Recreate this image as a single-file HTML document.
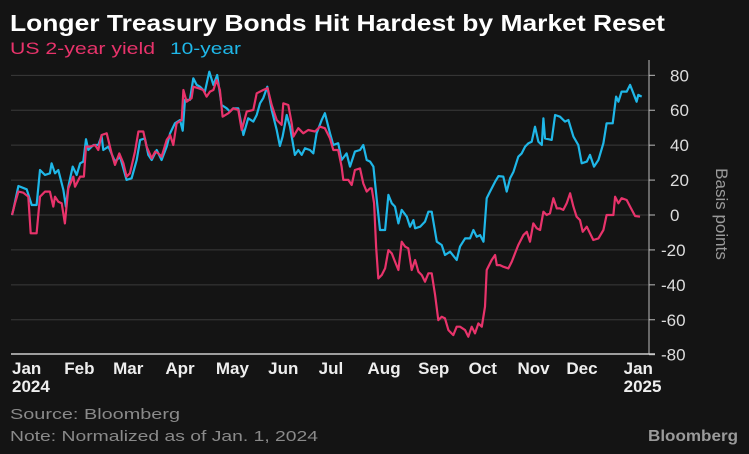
<!DOCTYPE html>
<html><head><meta charset="utf-8"><style>
html,body{margin:0;padding:0;background:#141414;}
svg{display:block;font-family:"Liberation Sans",sans-serif;}
</style></head><body>
<svg id="chart" width="749" height="454" viewBox="0 0 749 454">
<rect width="749" height="454" fill="#141414"/>
<text x="10" y="31" fill="#fff" font-size="23" font-weight="bold" textLength="655" lengthAdjust="spacingAndGlyphs">Longer Treasury Bonds Hit Hardest by Market Reset</text>
<text x="10" y="54" fill="#e8336b" font-size="17" textLength="145" lengthAdjust="spacingAndGlyphs">US 2-year yield</text>
<text x="170" y="54" fill="#1fb7e8" font-size="17" textLength="71" lengthAdjust="spacingAndGlyphs">10-year</text>
<g id="grid"></g>
<g id="series"></g>
<g id="axes"></g>
<text transform="translate(716,214) rotate(90)" text-anchor="middle" fill="#9a9a9a" font-size="17">Basis points</text>
<text x="10" y="419" fill="#8a8a8a" font-size="15" textLength="170" lengthAdjust="spacingAndGlyphs">Source: Bloomberg</text>
<text x="10" y="441" fill="#8a8a8a" font-size="15" textLength="308" lengthAdjust="spacingAndGlyphs">Note: Normalized as of Jan. 1, 2024</text>
<text x="648" y="441" fill="#9a9a9a" font-size="16" font-weight="bold" textLength="90" lengthAdjust="spacingAndGlyphs">Bloomberg</text>
</svg>
<script>
const yTicks=[80,60,40,20,0,-20,-40,-60,-80];
const monthLabels=["Jan","Feb","Mar","Apr","May","Jun","Jul","Aug","Sep","Oct","Nov","Dec","Jan"];
const monthDays=[0,31,60,91,121,152,182,211,241,271,300,329,363];
const tenDays=[0,0.8,3.8,8.7,11.7,14.6,16.6,19.6,22.5,23.5,25.5,27.5,30.5,32,33.4,36,38.4,40.4,42.3,43.9,45.3,48.3,51.2,53.2,54.2,57.2,61.1,64.1,68,71,74,76,78.9,80.9,82.9,85.9,88.8,91.8,93.8,96.7,99.7,101.3,102.7,105.6,107.6,109.6,111.6,114.5,117.1,119.5,121.8,124.4,127.4,129.4,131.3,134.3,137.3,140.2,143.2,145.2,147.2,149.1,151.5,154.1,157.1,159,160.6,163,165,167.9,169.9,171.9,173.9,176.8,178.8,180.8,183.8,185.7,188.7,190.7,193.6,195.6,198.6,200.6,203.5,206.5,208.5,210.5,212.5,214.5,216.5,218.4,221.4,223.4,225.4,227.3,229.3,231.3,234.3,236.2,238.2,239.2,242.2,245.1,247.1,249.1,252.1,255,257,260,263.9,265.9,268.9,271.8,273.8,275.8,277.8,279.8,281.7,283.7,286.7,288.7,291.6,293.6,295.6,297.6,300.5,302.5,304.5,306.5,308.4,310.4,312.4,314.4,315.4,316.3,320.3,322.3,325.2,328.2,330.2,333.2,336.1,338.1,341.1,343,345.4,348,351,352.9,356.5,358.5,359.9,361.8,364.8,366.8,368.8,370.7,371.7,373.7];
const tenVals=[0,2.9,16.6,14.7,5.7,5.7,25.8,22.9,23.9,29.6,23.9,25.8,14.3,4.8,16.2,27.7,22.9,29.6,30.6,43.4,37.2,40.1,40.1,45.3,37.2,39.2,30.6,33.4,20.1,21,31.5,43,43.9,34.4,31.5,37.2,31.5,39.2,46.8,52.5,54.4,48.3,65.9,65.9,78.3,74.5,73.5,70.7,82.1,74.5,80.2,63,61.1,59.2,61.1,61.1,45.8,55.4,53.5,57.3,64,66.9,73.5,60.2,48.7,39.5,44.9,57.3,50.6,34.4,37.2,34.4,38.2,37.2,35.3,46.8,54.4,58.3,46.8,40.1,41.1,31.5,35.3,27.7,36.3,37.2,40.1,31.5,30.6,27.7,8.6,-8.6,-8.6,11.5,6.7,4.8,-4.8,2.9,-1,-6.7,-2.9,-7.6,-6.7,-3.8,1.9,1.9,-15.3,-17.2,-22.9,-21,-25.8,-18.1,-13.4,-13.4,-8.6,-12.4,-11.5,-15.3,9.6,13.4,19.1,22.3,22,13.4,21,24.8,33.4,35.3,39.2,41.1,42,50.6,42,40.1,55.4,43.9,43,57.3,56.3,53.5,54.4,44.9,40.1,29.6,30.6,34.4,27.7,31.5,41.1,52.5,52.5,67.8,64.9,70.7,70.7,74.5,69.7,64.9,68.8,67.8];
const twoDays=[0,1.8,3.8,6.7,9.7,11.1,14.6,16.6,19.6,22.5,24.5,25.5,27.5,29.5,31.4,33.4,36.4,37.4,40.4,42.7,43.9,46.3,49.3,51.2,53.2,56.2,59.1,61.1,63.7,66.1,68,70,73,75,77.9,79.9,82.9,84.9,86.8,88.8,91.8,93.8,95.7,97.7,100.7,101.7,103.6,106.6,107.6,110.6,113.5,115.5,117.5,119.5,121.4,123.4,125,128.4,131.3,134.3,136.3,139.3,143.2,145.2,149.1,151.7,154.1,157.1,160,161,164,166,167,169.9,172.9,175.8,179.8,182.8,185.7,188.7,190.7,193.6,195.6,196.6,199.6,201.6,203.5,206.5,208.5,210.5,212.5,213.5,214.9,216.1,217.4,219.4,221.4,223.4,225.4,227.3,229.3,231.3,233.3,235.2,237.2,239.2,241.2,243.2,245.1,247.1,249.1,251.1,253,255,257,259,261.9,263.9,265.9,268.9,270.8,272.8,274.8,276.8,278.8,280.7,281.7,284.7,286.7,287.7,289.6,291.6,294.6,296.6,298.5,300.5,303.5,305.5,307.4,309.4,311.4,313.4,315.4,317.3,319.3,321.3,323.3,325.2,327.2,329.2,331.2,333.2,335.1,337.1,338.7,341.1,343,345,348,351,352.9,356.9,357.9,359.9,361.8,364.8,366.8,369.8,372.7];
const twoVals=[0,6.7,13.4,12.8,10.5,-10.5,-10.5,10.5,13.4,13.4,4.8,10.5,7.6,6.7,-4.8,15.3,22,16.2,22,22,39.2,39.2,40.1,37.2,45.8,46.8,35.3,28.7,35.3,29.6,22,23.9,36.3,47.8,47.8,39.2,32.5,36.3,35.3,33.4,43,45.8,40.1,52.5,54.4,71.6,64.9,66.9,73.5,72.6,71.6,67.8,70.7,71.6,77.4,71.6,56.3,58.3,61.1,60.2,48.7,59.2,60.2,69.7,71.6,72.6,63,54.4,51.6,64,63,52.5,44.9,49.7,46.8,48.7,47.8,50.6,49.7,43.9,37.2,37.2,27.7,20.1,20.1,17.2,25.8,26.7,18.1,13.4,15.3,15.3,6.7,-18.1,-36.3,-34.4,-30.6,-20.1,-22,-26.7,-31.5,-15.3,-18.1,-19.1,-31.5,-25.8,-32.5,-34.4,-38.2,-33.4,-33.4,-45.8,-60.2,-58.3,-59.2,-65.9,-68.8,-64,-64,-65.9,-69.7,-64,-67.8,-62.1,-64,-52.5,-31.5,-25.8,-22.9,-28.7,-28.7,-29.6,-30.6,-26.7,-22,-17.2,-11.5,-9.6,-15.3,-4.8,-7.6,-8.6,1.9,0,1,9.6,3.8,3.8,2.9,6.7,12.4,4.8,-1,-2.9,-9.6,-6.7,-10.5,-14.3,-13.4,-8.6,0,0,10.5,6.7,9.6,8.6,4.8,-0.6,-1];

const NS="http://www.w3.org/2000/svg";
const xS=d=>12+d*1.685;
const yS=v=>215-v*1.746;
const grid=document.getElementById('grid'),axes=document.getElementById('axes'),series=document.getElementById('series');
function mk(tag,parent,attrs){const e=document.createElementNS(NS,tag);for(const k in attrs)e.setAttribute(k,attrs[k]);parent.appendChild(e);return e;}
yTicks.forEach(t=>{
  const y=yS(t);
  if(t!==-80){const g=mk('line',grid,{x1:11,x2:649,y1:y,y2:y,stroke:'#3a3a3a','stroke-width':1});
  
  }
  const tk=mk('line',axes,{x1:649,x2:655,y1:y,y2:y,stroke:'#bbb','stroke-width':1});
  
  
  const lb=mk('text',axes,{x:(t<0?661:670),y:y+6,fill:'#ddd','font-size':17});
  lb.textContent=t;
  
  
});
const ya=mk('line',axes,{x1:649,x2:649,y1:60,y2:354,stroke:'#bbb','stroke-width':1});


const xa=mk('line',axes,{x1:11,x2:655,y1:354,y2:354,stroke:'#ccc','stroke-width':1.5});


monthLabels.forEach((m,i)=>{
  const lb=mk('text',axes,{x:xS(monthDays[i]),y:374,fill:'#eee','font-size':17,'font-weight':'bold'});
  lb.textContent=m;
  
  
});
[[12,'2024'],[xS(monthDays[12]),'2025']].forEach(([x,s])=>{
  const lb=mk('text',axes,{x:x,y:392,fill:'#eee','font-size':17,'font-weight':'bold'});
  lb.textContent=s;
  
  
});
function path(days,vals){return days.map((d,i)=>(i?'L':'M')+xS(d).toFixed(1)+' '+yS(vals[i]).toFixed(1)).join(' ');}
const p10=mk('path',series,{d:path(tenDays,tenVals),fill:'none',stroke:'#1fb7e8','stroke-width':2.2,'stroke-linejoin':'round'});


const p2=mk('path',series,{d:path(twoDays,twoVals),fill:'none',stroke:'#e8336b','stroke-width':2.2,'stroke-linejoin':'round'});


</script>
</body></html>
